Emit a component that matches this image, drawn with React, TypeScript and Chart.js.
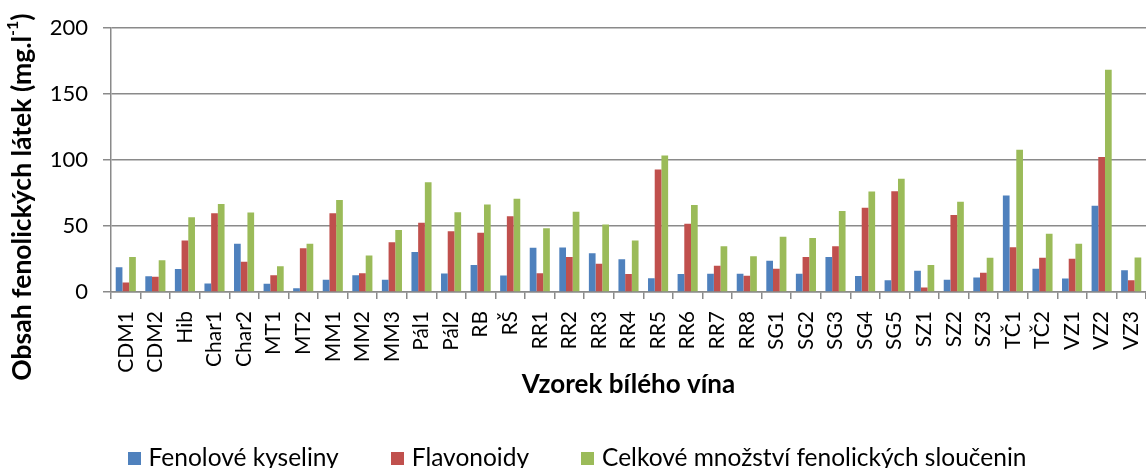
import React, { useEffect, useRef } from "react";
import { Chart, registerables } from "chart.js";

Chart.register(...registerables);

const categories = [
  "CDM1", "CDM2", "Hib", "Char1", "Char2", "MT1", "MT2", "MM1", "MM2", "MM3",
  "Pál1", "Pál2", "RB", "RŠ", "RR1", "RR2", "RR3", "RR4", "RR5", "RR6",
  "RR7", "RR8", "SG1", "SG2", "SG3", "SG4", "SG5", "SZ1", "SZ2", "SZ3",
  "TČ1", "TČ2", "VZ1", "VZ2", "VZ3",
];

const fenoloveKyseliny = [
  18.75, 12, 17.5, 6.5, 36.5, 6.25, 2.75, 9.25, 12.75, 9.25,
  30.25, 14, 20.5, 12.5, 33.6, 33.8, 29.4, 24.9, 10.4, 13.7,
  13.9, 13.9, 23.6, 13.9, 26.6, 12.2, 9, 16.2, 9.2, 11,
  73.2, 17.7, 10.2, 65.4, 16.5,
];

const flavonoidy = [
  7.25, 11.5, 39, 59.75, 23, 12.75, 33.25, 59.75, 14.25, 37.75,
  52.5, 46, 45, 57.5, 14.2, 26.6, 21.4, 13.7, 92.8, 51.7,
  19.9, 12.4, 17.7, 26.6, 34.6, 63.9, 76.4, 3.5, 58.4, 14.5,
  34, 26, 25.2, 102.4, 9,
];

const celkoveMnozstvi = [
  26.5, 24, 56.75, 66.75, 60.25, 19.5, 36.5, 69.75, 27.75, 47,
  83.25, 60.5, 66.25, 70.75, 48.3, 60.9, 51.2, 39, 103.5, 65.9,
  34.6, 27.1, 41.8, 41, 61.4, 76.1, 85.8, 20.4, 68.4, 26,
  107.9, 44.2, 36.5, 168.5, 26.2,
];

const seriesNames = [
  "Fenolové kyseliny",
  "Flavonoidy",
  "Celkové množství fenolických sloučenin",
];
const seriesColors = ["#4F81BD", "#C0504D", "#9BBB59"];

const yMin = 0;
const yMax = 200;
const yStep = 50;

const yTitleMain = "Obsah fenolických látek (mg.l";
const yTitleSup = "-1";
const yTitleEnd = ")";
const xTitle = "Vzorek bílého vína";

const FONT = "Lato, 'Open Sans', sans-serif";
const GRID = "#8a8a8a";

const yTitlePlugin = {
  id: "yTitleCustom",
  afterDraw(chart: any) {
    const { ctx, chartArea } = chart;
    ctx.save();
    const mainFont = `bold 26.5px ${FONT}`;
    const supFont = `bold 16px ${FONT}`;
    ctx.font = mainFont;
    const w1 = ctx.measureText(yTitleMain).width;
    const w3 = ctx.measureText(yTitleEnd).width;
    ctx.font = supFont;
    const w2 = ctx.measureText(yTitleSup).width;
    const total = w1 + w2 + w3;
    ctx.translate(22, chartArea.bottom - 95);
    ctx.rotate(-Math.PI / 2);
    ctx.fillStyle = "#000";
    ctx.textBaseline = "middle";
    ctx.textAlign = "left";
    let x = -total / 2;
    ctx.font = mainFont;
    ctx.fillText(yTitleMain, x, 0);
    x += w1;
    ctx.font = supFont;
    ctx.fillText(yTitleSup, x, -9);
    x += w2;
    ctx.font = mainFont;
    ctx.fillText(yTitleEnd, x, 0);
    ctx.restore();
  },
};

const legendPlugin = {
  id: "equalGapLegend",
  afterDraw(chart: any) {
    const { ctx, width, height } = chart;
    ctx.save();
    ctx.font = `24.5px ${FONT}`;
    const box = 13;
    const gapText = 8;
    const gapItem = 52;
    const items = chart.data.datasets.map((ds: any) => ({
      text: ds.label as string,
      color: ds.backgroundColor as string,
      w: ctx.measureText(ds.label).width,
    }));
    const total =
      items.reduce((s: number, it: any) => s + box + gapText + it.w, 0) +
      gapItem * (items.length - 1);
    let x = width / 2 + 4 - total / 2;
    const cy = height - 10;
    ctx.textBaseline = "middle";
    ctx.textAlign = "left";
    for (const it of items) {
      ctx.fillStyle = it.color;
      ctx.fillRect(Math.round(x), Math.round(cy - box / 2), box, box);
      ctx.fillStyle = "#000";
      ctx.fillText(it.text, x + box + gapText, cy);
      x += box + gapText + it.w + gapItem;
    }
    ctx.restore();
  },
};

export default function App() {
  const canvasRef = useRef<HTMLCanvasElement | null>(null);

  useEffect(() => {
    if (!canvasRef.current) return;
    const seriesData = [fenoloveKyseliny, flavonoidy, celkoveMnozstvi];
    const chart = new Chart(canvasRef.current, {
      type: "bar",
      data: {
        labels: categories,
        datasets: seriesNames.map((name, i) => ({
          label: name,
          data: seriesData[i],
          backgroundColor: seriesColors[i],
          borderWidth: 0,
          categoryPercentage: 0.68,
          barPercentage: 1.0,
        })),
      },
      options: {
        responsive: false,
        animation: false,
        devicePixelRatio: 1,
        layout: { padding: { top: 24, right: 0, left: 0, bottom: 60 } },
        plugins: {
          legend: { display: false },
          tooltip: { enabled: false },
          title: { display: false },
        },
        scales: {
          x: {
            grid: {
              drawOnChartArea: false,
              drawTicks: true,
              tickLength: 7,
              color: GRID,
              lineWidth: 1.5,
              offset: true,
            },
            border: { display: true, color: GRID, width: 1.5 },
            ticks: {
              autoSkip: false,
              maxRotation: 90,
              minRotation: 90,
              padding: 12,
              color: "#000",
              font: { family: FONT, size: 21 },
            },
            title: {
              display: true,
              text: xTitle,
              color: "#000",
              font: { family: FONT, size: 26, weight: "bold" },
              padding: { top: 4, bottom: 8 },
            },
            afterFit(scale: any) {
              scale.height = 116;
              scale.paddingLeft = 0;
              scale.paddingRight = 0;
            },
          },
          y: {
            min: yMin,
            max: yMax,
            ticks: {
              stepSize: yStep,
              padding: 15,
              color: "#000",
              font: { family: FONT, size: 22 },
            },
            grid: {
              color: GRID,
              lineWidth: 1.5,
              tickLength: 8,
              drawTicks: true,
            },
            border: { display: true, color: GRID, width: 1.5 },
            afterFit(scale: any) {
              scale.width = 111;
            },
          },
        },
      },
      plugins: [yTitlePlugin, legendPlugin],
    });
    return () => chart.destroy();
  }, []);

  return (
    <div
      style={{
        position: "fixed",
        left: 0,
        top: 0,
        width: 1146,
        height: 468,
        overflow: "hidden",
        background: "#fff",
      }}
    >
      <canvas ref={canvasRef} width={1146} height={468} />
    </div>
  );
}
